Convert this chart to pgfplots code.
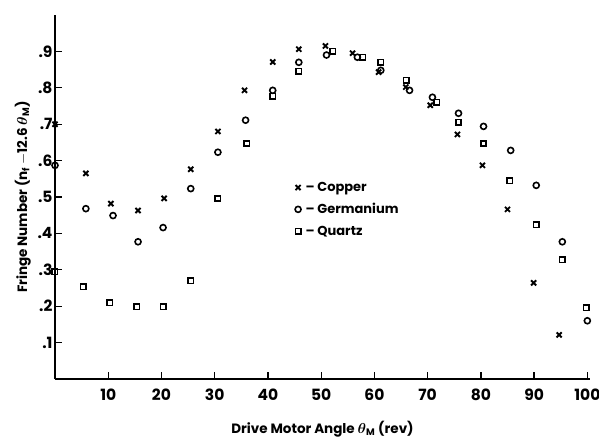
\documentclass[border=0pt]{standalone}
\usepackage{amsmath}
\usepackage{fontspec}
\setmainfont{Poppins}
\usepackage{pgfplots}
\pgfplotsset{compat=1.18}
\usetikzlibrary{calc}

\begin{document}
\begin{tikzpicture}
\begin{axis}[
    scale only axis,
    width=535pt, height=364pt,
    xmin=0, xmax=100.5, ymin=0, ymax=1,
    axis lines=left,
    axis line style={line width=1.6pt, -},
    tick style={line width=1.3pt, black},
    tick align=inside,
    major tick length=7pt,
    xtick={10,20,30,40,50,60,70,80,90,100},
    ytick={0.1,0.2,0.3,0.4,0.5,0.6,0.7,0.8,0.9},
    yticklabels={.1,.2,.3,.4,.5,.6,.7,.8,.9},
    /pgf/number format/assume math mode=true,
    tick label style={font=\fontsize{15.5}{17}\selectfont\bfseries},
    xticklabel style={yshift=-6pt},
    yticklabel style={xshift=1pt},
    label style={font=\fontsize{13.5}{16}\selectfont\bfseries},
    xlabel={Drive Motor Angle $\boldsymbol{\theta}_{\mathbf{M}}$ (rev)},
    ylabel={Fringe Number (n$_{\mathbf{f}}$ $\mathbf{-}$12.6 $\boldsymbol{\theta}_{\mathbf{M}}$)},
    xlabel style={yshift=-14pt},
    clip=false,
    legend cell align=left,
    legend style={at={(axis cs:44.5,0.466)}, anchor=west, draw=none, fill=none,
        font=\fontsize{13}{15}\selectfont\bfseries, row sep=6.5pt},
    every axis plot/.append style={only marks, black, line width=1.6pt},
]
\coordinate (O) at (rel axis cs:0,0);
\addplot[mark=x, mark size=3.6pt, line width=1.9pt] coordinates {
(0,0.70) (5.8,0.565) (10.5,0.482) (15.6,0.463) (20.5,0.496) (25.5,0.576)
(30.6,0.680) (35.6,0.793) (40.9,0.871) (45.8,0.906) (50.8,0.915) (55.9,0.895)
(60.8,0.843) (65.9,0.802) (70.5,0.752) (75.6,0.672) (80.3,0.587) (85.0,0.466)
(89.9,0.264) (94.7,0.121)};
\addlegendentry{\hspace{2.5pt}-- Copper}
\addplot[mark=o, mark size=3pt] coordinates {
(0,0.587) (5.8,0.468) (10.9,0.449) (15.6,0.377) (20.3,0.416) (25.5,0.523)
(30.6,0.623) (35.8,0.711) (40.9,0.793) (45.8,0.870) (51.0,0.890) (56.8,0.884)
(61.2,0.848) (66.6,0.793) (70.9,0.774) (75.8,0.730) (80.5,0.694) (85.6,0.628)
(90.4,0.532) (95.3,0.377) (100,0.160)};
\addlegendentry{\hspace{2.5pt}-- Germanium}
\addplot[mark=square, mark size=2.7pt] coordinates {
(0,0.295) (5.3,0.253) (10.3,0.209) (15.4,0.198) (20.3,0.198) (25.5,0.270)
(30.6,0.496) (36.0,0.647) (40.9,0.777) (45.8,0.846) (52.2,0.901) (57.8,0.884)
(61.2,0.870) (66.0,0.821) (71.7,0.760) (75.8,0.705) (80.5,0.647) (85.4,0.545)
(90.4,0.424) (95.3,0.328) (99.8,0.196)};
\addlegendentry{\hspace{2.5pt}-- Quartz}
\end{axis}
\pgfresetboundingbox
\path ($(O)+(-55pt,-61pt)$) rectangle ($(O)+(544pt,379pt)$);
\end{tikzpicture}
\end{document}
